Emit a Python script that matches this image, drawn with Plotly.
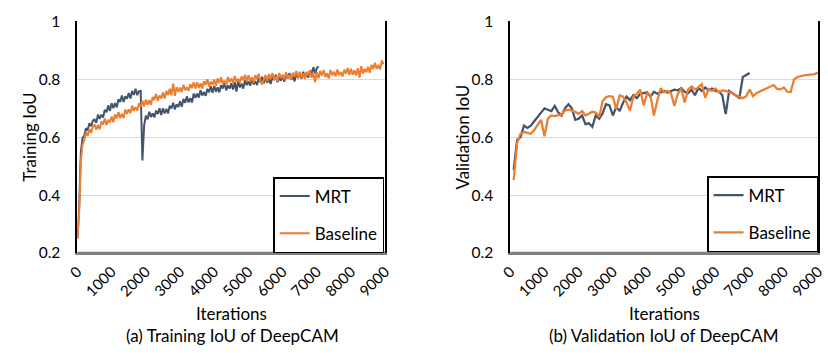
import plotly.graph_objects as go

# ---------------- data ----------------
train_iters_mrt = list(range(0, 7100, 50))
train_mrt = [
    0.250, 0.360, 0.550, 0.598, 0.605, 0.631, 0.624, 0.648, 0.638, 0.657,
    0.661, 0.650, 0.678, 0.663, 0.678, 0.668, 0.695, 0.686, 0.710, 0.691,
    0.717, 0.700, 0.718, 0.703, 0.731, 0.722, 0.744, 0.722, 0.741, 0.733,
    0.753, 0.734, 0.760, 0.746, 0.767, 0.745, 0.759, 0.760, 0.520, 0.640,
    0.674, 0.662, 0.688, 0.670, 0.682, 0.669, 0.692, 0.680, 0.700, 0.677,
    0.700, 0.682, 0.698, 0.682, 0.709, 0.699, 0.719, 0.696, 0.714, 0.704,
    0.724, 0.705, 0.732, 0.719, 0.741, 0.720, 0.735, 0.720, 0.751, 0.736,
    0.751, 0.737, 0.762, 0.744, 0.756, 0.743, 0.767, 0.755, 0.776, 0.754,
    0.777, 0.757, 0.772, 0.755, 0.780, 0.768, 0.787, 0.762, 0.779, 0.768,
    0.786, 0.765, 0.790, 0.758, 0.795, 0.772, 0.785, 0.768, 0.797, 0.780,
    0.793, 0.778, 0.802, 0.783, 0.794, 0.780, 0.803, 0.790, 0.809, 0.786,
    0.808, 0.788, 0.802, 0.784, 0.809, 0.797, 0.816, 0.790, 0.806, 0.795,
    0.813, 0.792, 0.817, 0.802, 0.822, 0.798, 0.811, 0.793, 0.821, 0.804,
    0.817, 0.802, 0.826, 0.807, 0.819, 0.806, 0.831, 0.820, 0.842, 0.821,
    0.838, 0.845,
]

train_iters_base = list(range(0, 9000, 50))
train_base = [
    0.250, 0.340, 0.520, 0.575, 0.590, 0.618, 0.605, 0.628, 0.615, 0.636,
    0.644, 0.626, 0.643, 0.627, 0.654, 0.644, 0.665, 0.642, 0.660, 0.651,
    0.671, 0.652, 0.679, 0.665, 0.687, 0.666, 0.681, 0.666, 0.696, 0.681,
    0.696, 0.683, 0.709, 0.691, 0.704, 0.692, 0.717, 0.706, 0.727, 0.706,
    0.730, 0.712, 0.728, 0.712, 0.739, 0.729, 0.749, 0.726, 0.744, 0.734,
    0.754, 0.734, 0.760, 0.746, 0.767, 0.745, 0.785, 0.743, 0.773, 0.757,
    0.771, 0.756, 0.781, 0.762, 0.773, 0.760, 0.783, 0.770, 0.790, 0.768,
    0.790, 0.770, 0.786, 0.768, 0.793, 0.781, 0.800, 0.775, 0.792, 0.781,
    0.799, 0.778, 0.803, 0.787, 0.807, 0.784, 0.796, 0.779, 0.808, 0.790,
    0.803, 0.788, 0.811, 0.792, 0.802, 0.788, 0.810, 0.796, 0.816, 0.792,
    0.814, 0.793, 0.808, 0.789, 0.814, 0.801, 0.819, 0.794, 0.782, 0.798,
    0.815, 0.793, 0.818, 0.802, 0.822, 0.798, 0.810, 0.793, 0.822, 0.804,
    0.816, 0.800, 0.824, 0.804, 0.815, 0.800, 0.823, 0.809, 0.829, 0.805,
    0.826, 0.805, 0.820, 0.801, 0.826, 0.813, 0.831, 0.805, 0.821, 0.790,
    0.826, 0.804, 0.829, 0.813, 0.832, 0.808, 0.821, 0.803, 0.832, 0.814,
    0.826, 0.810, 0.834, 0.814, 0.825, 0.810, 0.833, 0.819, 0.839, 0.815,
    0.836, 0.816, 0.831, 0.813, 0.838, 0.806, 0.845, 0.820, 0.836, 0.825,
    0.843, 0.823, 0.850, 0.836, 0.857, 0.836, 0.850, 0.834, 0.865, 0.852,
]

val_iters_mrt = list(range(100, 7100, 100))
val_mrt = [
    0.487, 0.590, 0.600, 0.640, 0.632, 0.640, 0.655, 0.672, 0.685, 0.700,
    0.695, 0.690, 0.708, 0.686, 0.675, 0.700, 0.714, 0.700, 0.660, 0.664,
    0.675, 0.645, 0.648, 0.636, 0.675, 0.664, 0.682, 0.714, 0.710, 0.675,
    0.705, 0.690, 0.720, 0.740, 0.728, 0.745, 0.735, 0.750, 0.752, 0.755,
    0.740, 0.757, 0.750, 0.755, 0.760, 0.754, 0.758, 0.764, 0.762, 0.769,
    0.757, 0.752, 0.764, 0.745, 0.770, 0.760, 0.772, 0.762, 0.768, 0.760,
    0.758, 0.745, 0.680, 0.760, 0.752, 0.745, 0.736, 0.808, 0.815, 0.822,
]

val_iters_base = list(range(100, 9100, 100))
val_base = [
    0.452, 0.580, 0.612, 0.618, 0.615, 0.612, 0.625, 0.645, 0.660, 0.603,
    0.664, 0.675, 0.673, 0.676, 0.678, 0.692, 0.695, 0.692, 0.688, 0.681,
    0.690, 0.675, 0.681, 0.688, 0.685, 0.670, 0.725, 0.738, 0.742, 0.740,
    0.697, 0.745, 0.740, 0.720, 0.692, 0.740, 0.750, 0.764, 0.710, 0.752,
    0.745, 0.675, 0.727, 0.769, 0.755, 0.760, 0.752, 0.708, 0.750, 0.768,
    0.720, 0.765, 0.775, 0.765, 0.772, 0.783, 0.736, 0.766, 0.760, 0.768,
    0.755, 0.762, 0.760, 0.757, 0.752, 0.745, 0.740, 0.735, 0.742, 0.765,
    0.742, 0.752, 0.758, 0.764, 0.770, 0.775, 0.780, 0.767, 0.765, 0.772,
    0.757, 0.756, 0.800, 0.808, 0.812, 0.814, 0.815, 0.817, 0.818, 0.823,
]

x_ticks = [0, 1000, 2000, 3000, 4000, 5000, 6000, 7000, 8000, 9000]
y_ticks = [0.2, 0.4, 0.6, 0.8, 1.0]
y_tick_text = ["0.2", "0.4", "0.6", "0.8", "1"]

colors = {"MRT": "#44546A", "Baseline": "#ED7D31"}
FONT = "Lato"

# ---------------- figure ----------------
fig = go.Figure()

fig.add_trace(go.Scatter(x=train_iters_mrt, y=train_mrt, mode="lines", name="MRT",
                         line=dict(color=colors["MRT"], width=2), xaxis="x", yaxis="y",
                         legend="legend", legendgroup="a1"))
fig.add_trace(go.Scatter(x=train_iters_base, y=train_base, mode="lines", name="Baseline",
                         line=dict(color=colors["Baseline"], width=2), xaxis="x", yaxis="y",
                         legend="legend", legendgroup="a2"))
fig.add_trace(go.Scatter(x=val_iters_mrt, y=val_mrt, mode="lines", name="MRT",
                         line=dict(color=colors["MRT"], width=2.25), xaxis="x2", yaxis="y2",
                         legend="legend2", legendgroup="b1"))
fig.add_trace(go.Scatter(x=val_iters_base, y=val_base, mode="lines", name="Baseline",
                         line=dict(color=colors["Baseline"], width=2.25), xaxis="x2", yaxis="y2",
                         legend="legend2", legendgroup="b2"))

W, H = 828, 356
dom_x1 = [68 / W, 383 / W]
dom_x2 = [511 / W, 826 / W]
dom_y = [(H - 256) / H, (H - 12) / H]

xcommon = dict(range=[0, 9000], tickvals=x_ticks, tickangle=-45, showgrid=False,
               zeroline=False, showline=True, linecolor="#808080", linewidth=2,
               ticks="outside", ticklen=2, tickcolor="rgba(0,0,0,0)",
               tickfont=dict(family=FONT, size=15, color="#000"))
ycommon = dict(range=[0.2, 1.0], tickvals=y_ticks, ticktext=y_tick_text,
               showgrid=True, gridcolor="#D9D9D9", gridwidth=1, zeroline=False,
               showline=True, linecolor="#000", linewidth=2, mirror=True,
               ticks="outside", ticklen=12, tickcolor="rgba(0,0,0,0)",
               tickfont=dict(family=FONT, size=15.5, color="#000"))

legcommon = dict(bgcolor="white", bordercolor="#000", borderwidth=1.5,
                 font=dict(family=FONT, size=17, color="#000"),
                 xanchor="right", yanchor="bottom", tracegroupgap=12,
                 itemwidth=30)

fig.update_layout(
    width=W, height=H,
    margin=dict(l=0, r=0, t=0, b=0),
    paper_bgcolor="white", plot_bgcolor="white",
    xaxis=dict(domain=dom_x1, anchor="y", **xcommon),
    yaxis=dict(domain=dom_y, anchor="x", **ycommon),
    xaxis2=dict(domain=dom_x2, anchor="y2", **xcommon),
    yaxis2=dict(domain=dom_y, anchor="x2", **ycommon),
    legend=dict(x=382 / W, y=(H - 256) / H, **legcommon),
    legend2=dict(x=826 / W, y=(H - 255) / H, **legcommon),
    showlegend=True,
)

# gray bottom axis line drawn over the black frame
for xr, yr in [("x domain", "y domain"), ("x2 domain", "y2 domain")]:
    fig.add_shape(type="line", xref=xr, yref=yr, x0=0, x1=1, y0=0, y1=0,
                  line=dict(color="#808080", width=2.5), layer="above")

def ann(x, y, text, angle=0):
    fig.add_annotation(x=x / W, y=1 - y / H, xref="paper", yref="paper", text=text,
                       showarrow=False, textangle=angle, xanchor="center", yanchor="middle",
                       font=dict(family=FONT, size=17, color="#000"))

ann(19, 134, "Training IoU", -90)
ann(462, 134, "Validation IoU", -90)
ann(226, 320, "Iterations")
ann(669, 320, "Iterations")
ann(227, 343, "(a) Training IoU of DeepCAM")
ann(668, 343, "(b) Validation IoU of DeepCAM")

fig.write_html("out.html")
